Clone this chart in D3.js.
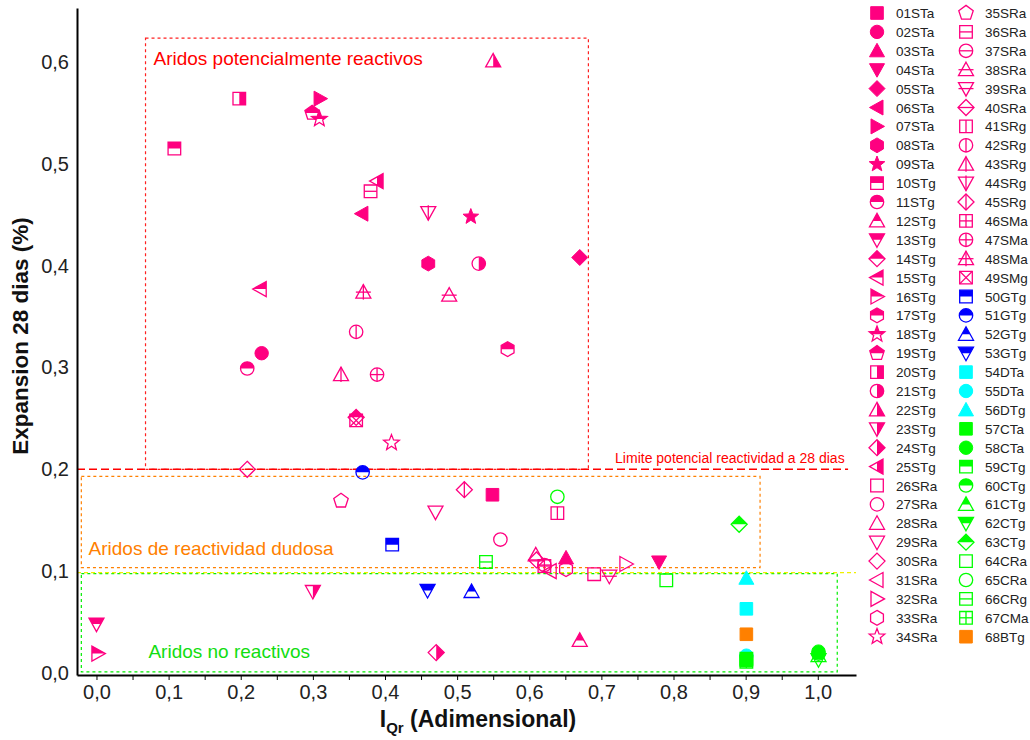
<!DOCTYPE html>
<html>
<head>
<meta charset="utf-8">
<script src="https://cdn.jsdelivr.net/npm/d3@7"></script>
<style>
  html, body { margin: 0; padding: 0; background: #fff; }
  text { font-family: "Liberation Sans", Arial, sans-serif; }
</style>
</head>
<body>
<script>
// Sample identifiers (legend order)
const sampleIds = [
  "01STa","02STa","03STa","04STa","05STa","06STa","07STa","08STa","09STa","10STg",
  "11STg","12STg","13STg","14STg","15STg","16STg","17STg","18STg","19STg","20STg",
  "21STg","22STg","23STg","24STg","25STg","26SRa","27SRa","28SRa","29SRa","30SRa",
  "31SRa","32SRa","33SRa","34SRa","35SRa","36SRa","37SRa","38SRa","39SRa","40SRa",
  "41SRg","42SRg","43SRg","44SRg","45SRg","46SMa","47SMa","48SMa","49SMg","50GTg",
  "51GTg","52GTg","53GTg","54DTa","55DTa","56DTg","57CTa","58CTa","59CTg","60CTg",
  "61CTg","62CTg","63CTg","64CRa","65CRa","66CRg","67CMa","68BTg"
];

// Reactivity index I_Qr (adimensional)
const iqrValues = [
  0.549, 0.229, 0.651, 0.780, 0.670, 0.368, 0.310, 0.460, 0.519, 0.108,
  0.209, 0.670, 0.000, 0.360, 0.227, 0.002, 0.570, 0.309, 0.299, 0.198,
  0.530, 0.550, 0.300, 0.471, 0.389, 0.690, 0.560, 0.609, 0.470, 0.209,
  0.629, 0.734, 0.651, 0.409, 0.339, 0.380, 0.621, 0.489, 0.711, 0.610,
  0.639, 0.360, 0.339, 0.460, 0.510, 0.621, 0.389, 0.370, 0.360, 0.410,
  0.369, 0.520, 0.459, 0.901, 0.901, 0.901, 0.901, 1.001, 0.901, 1.001,
  1.001, 1.001, 0.891, 0.790, 0.639, 0.540, 0.901, 0.901
];

// Expansion at 28 days (%)
const expansionValues = [
  0.175, 0.314, 0.113, 0.109, 0.408, 0.451, 0.564, 0.402, 0.448, 0.515,
  0.299, 0.032, 0.048, 0.251, 0.377, 0.019, 0.318, 0.544, 0.550, 0.564,
  0.402, 0.601, 0.080, 0.020, 0.483, 0.097, 0.131, 0.116, 0.158, 0.200,
  0.100, 0.107, 0.102, 0.226, 0.169, 0.473, 0.106, 0.371, 0.095, 0.111,
  0.157, 0.335, 0.293, 0.452, 0.180, 0.105, 0.293, 0.374, 0.248, 0.126,
  0.197, 0.080, 0.081, 0.063, 0.017, 0.093, 0.012, 0.021, 0.014, 0.019,
  0.017, 0.013, 0.146, 0.091, 0.173, 0.109, 0.011, 0.038
];

// Axis ticks
const xTickValues = [0, 0.1, 0.2, 0.3, 0.4, 0.5, 0.6, 0.7, 0.8, 0.9, 1.0];
const yTickValues = [0, 0.1, 0.2, 0.3, 0.4, 0.5, 0.6];

// Classification zones: [x0, x1, y0, y1]
const zoneReactive = [0.068, 0.682, 0.2, 0.6235];
const zoneDoubtful = [-0.021, 0.920, 0.1035, 0.193];
const zoneInert    = [-0.021, 1.027, 0.001, 0.0975];
const limitLevel = 0.2;
const inertLevel = 0.0985;

// Marker style per sample: [shape, fill mode, colour]
const PINK = "#ff0080", BLUE = "#0000ff", CYAN = "#00ffff", GREEN = "#00ff00", ORANGE = "#ff8000";
const markerStyle = {
  "01STa":["square","full",PINK], "02STa":["circle","full",PINK], "03STa":["triUp","full",PINK],
  "04STa":["triDown","full",PINK], "05STa":["diamond","full",PINK], "06STa":["triLeft","full",PINK],
  "07STa":["triRight","full",PINK], "08STa":["hexagon","full",PINK], "09STa":["star","full",PINK],
  "10STg":["square","top",PINK], "11STg":["circle","top",PINK], "12STg":["triUp","top",PINK],
  "13STg":["triDown","top",PINK], "14STg":["diamond","top",PINK], "15STg":["triLeft","top",PINK],
  "16STg":["triRight","top",PINK], "17STg":["hexagon","top",PINK], "18STg":["star","top",PINK],
  "19STg":["pentagon","top",PINK], "20STg":["square","right",PINK], "21STg":["circle","right",PINK],
  "22STg":["triUp","right",PINK], "23STg":["triDown","right",PINK], "24STg":["diamond","right",PINK],
  "25STg":["triLeft","right",PINK], "26SRa":["square","open",PINK], "27SRa":["circle","open",PINK],
  "28SRa":["triUp","open",PINK], "29SRa":["triDown","open",PINK], "30SRa":["diamond","open",PINK],
  "31SRa":["triLeft","open",PINK], "32SRa":["triRight","open",PINK], "33SRa":["hexagon","open",PINK],
  "34SRa":["star","open",PINK], "35SRa":["pentagon","open",PINK], "36SRa":["square","hline",PINK],
  "37SRa":["circle","hline",PINK], "38SRa":["triUp","hline",PINK], "39SRa":["triDown","hline",PINK],
  "40SRa":["diamond","hline",PINK], "41SRg":["square","vline",PINK], "42SRg":["circle","vline",PINK],
  "43SRg":["triUp","vline",PINK], "44SRg":["triDown","vline",PINK], "45SRg":["diamond","vline",PINK],
  "46SMa":["square","plus",PINK], "47SMa":["circle","plus",PINK], "48SMa":["triUp","plus",PINK],
  "49SMg":["square","cross",PINK], "50GTg":["square","top",BLUE], "51GTg":["circle","top",BLUE],
  "52GTg":["triUp","top",BLUE], "53GTg":["triDown","top",BLUE], "54DTa":["square","full",CYAN],
  "55DTa":["circle","full",CYAN], "56DTg":["triUp","full",CYAN], "57CTa":["square","full",GREEN],
  "58CTa":["circle","full",GREEN], "59CTg":["square","top",GREEN], "60CTg":["circle","top",GREEN],
  "61CTg":["triUp","top",GREEN], "62CTg":["triDown","top",GREEN], "63CTg":["diamond","top",GREEN],
  "64CRa":["square","open",GREEN], "65CRa":["circle","open",GREEN], "66CRg":["square","hline",GREEN],
  "67CMa":["square","plus",GREEN], "68BTg":["square","full",ORANGE]
};

const W = 1030, H = 740;
const svg = d3.select("body").append("svg").attr("width", W).attr("height", H);

const x = d3.scaleLinear().domain([-0.027, 1.053]).range([77, 856]);
const y = d3.scaleLinear().domain([-0.002, 0.653]).range([675, 8]);

// Clip regions used for half-filled markers (local marker coordinates)
const defs = svg.append("defs");
defs.append("clipPath").attr("id", "clipTop").append("rect")
  .attr("x", -20).attr("y", -20).attr("width", 40).attr("height", 20);
defs.append("clipPath").attr("id", "clipRight").append("rect")
  .attr("x", 0).attr("y", -20).attr("width", 20).attr("height", 40);

// Shape outlines, centred on the origin
function polygonPath(pts) { return "M" + pts.map(p => p.join(",")).join("L") + "Z"; }
function regular(n, r, rot) {
  return d3.range(n).map(i => {
    const a = rot + i * 2 * Math.PI / n;
    return [r * Math.cos(a), r * Math.sin(a)];
  });
}
function starPts(ro, ri) {
  return d3.range(10).map(i => {
    const a = -Math.PI / 2 + i * Math.PI / 5;
    const r = i % 2 ? ri : ro;
    return [r * Math.cos(a), r * Math.sin(a)];
  });
}
function circlePath(r) { const p = d3.path(); p.arc(0, 0, r, 0, 2 * Math.PI); p.closePath(); return p.toString(); }
const shapePaths = {
  square: polygonPath([[-6.3,-6.3],[6.3,-6.3],[6.3,6.3],[-6.3,6.3]]),
  circle: circlePath(6.7),
  triUp: polygonPath([[0,-7.5],[7.5,6],[-7.5,6]]),
  triDown: polygonPath([[0,7.5],[7.5,-6],[-7.5,-6]]),
  triLeft: polygonPath([[-7.5,0],[6,-7.5],[6,7.5]]),
  triRight: polygonPath([[7.5,0],[-6,-7.5],[-6,7.5]]),
  diamond: polygonPath([[0,-8],[8,0],[0,8],[-8,0]]),
  hexagon: polygonPath(regular(6, 7.4, -Math.PI / 2)),
  pentagon: polygonPath(regular(5, 7.6, -Math.PI / 2)),
  star: polygonPath(starPts(8.2, 3.5))
};
const shapeExtent = {
  square: [6.3, 6.3], circle: [6.7, 6.7], triUp: [7.5, 7.5], triDown: [7.5, 7.5],
  triLeft: [7.5, 7.5], triRight: [7.5, 7.5], diamond: [8, 8], hexagon: [7.2, 7.4],
  pentagon: [7.6, 7.6], star: [8, 8]
};

function drawMarker(g, style) {
  const [shape, mode, color] = style;
  const d = shapePaths[shape];
  const [ex, ey] = shapeExtent[shape];
  const sw = 1.3;
  if (mode === "full") {
    g.append("path").attr("d", d).attr("fill", color).attr("stroke", color).attr("stroke-width", 1);
    return;
  }
  if (mode === "top" || mode === "right") {
    g.append("path").attr("d", d).attr("fill", color).attr("stroke", "none")
      .attr("clip-path", mode === "top" ? "url(#clipTop)" : "url(#clipRight)");
  }
  g.append("path").attr("d", d).attr("fill", "none").attr("stroke", color).attr("stroke-width", sw);
  const line = (x1, y1, x2, y2) => g.append("line")
    .attr("x1", x1).attr("y1", y1).attr("x2", x2).attr("y2", y2)
    .attr("stroke", color).attr("stroke-width", sw);
  if (mode === "hline" || mode === "plus") line(-ex, 0, ex, 0);
  if (mode === "vline" || mode === "plus") line(0, -ey, 0, ey);
  if (mode === "cross") { line(-ex, -ey, ex, ey); line(-ex, ey, ex, -ey); }
}

// Zones
function zoneRect(z, color) {
  svg.append("rect")
    .attr("x", x(z[0])).attr("y", y(z[3]))
    .attr("width", x(z[1]) - x(z[0])).attr("height", y(z[2]) - y(z[3]))
    .attr("fill", "none").attr("stroke", color).attr("stroke-width", 1.2)
    .attr("stroke-dasharray", "3,3");
}
zoneRect(zoneReactive, "#ff2020");
zoneRect(zoneDoubtful, "#ff8000");
zoneRect(zoneInert, "#00ee00");

// Reference levels
svg.append("line")
  .attr("x1", x(-0.027)).attr("x2", x(1.053)).attr("y1", y(inertLevel)).attr("y2", y(inertLevel))
  .attr("stroke", "#f0f000").attr("stroke-width", 1.2).attr("stroke-dasharray", "4,3");
svg.append("line")
  .attr("x1", x(-0.027)).attr("x2", x(1.042)).attr("y1", y(limitLevel)).attr("y2", y(limitLevel))
  .attr("stroke", "#ff0000").attr("stroke-width", 1.5).attr("stroke-dasharray", "8,4");

// Zone labels
svg.append("text").attr("x", x(0.079)).attr("y", y(0.597))
  .attr("font-size", 19).attr("fill", "#ff0000").text("Aridos potencialmente reactivos");
svg.append("text").attr("x", x(-0.011)).attr("y", y(0.116))
  .attr("font-size", 19).attr("fill", "#ff8000").text("Aridos de reactividad dudosa");
svg.append("text").attr("x", x(0.072)).attr("y", y(0.0147))
  .attr("font-size", 19).attr("fill", "#11dd11").text("Aridos no reactivos");
svg.append("text").attr("x", x(0.719)).attr("y", y(0.206))
  .attr("font-size", 14).attr("fill", "#ff0000").text("Limite potencial reactividad a 28 dias");

// Axes
const fmt = v => d3.format(".1f")(v).replace(".", ",");
const xAxis = svg.append("g").attr("transform", `translate(0,${y(-0.002)})`)
  .call(d3.axisBottom(x).tickValues(d3.range(0, 21).map(i => i * 0.05).filter(v => v <= 1.05))
    .tickFormat(v => xTickValues.some(t => Math.abs(t - v) < 1e-6) ? fmt(v) : "")
    .tickSize(5).tickSizeOuter(0).tickPadding(5));
xAxis.select(".domain").attr("stroke", "#000").attr("stroke-width", 2);
xAxis.selectAll(".tick line").attr("stroke", "#000");
xAxis.selectAll("text").attr("font-size", 20).attr("fill", "#222")
  .attr("font-family", "'Liberation Sans', Arial, sans-serif");

const yAxis = svg.append("g").attr("transform", `translate(${x(-0.027)},0)`)
  .call(d3.axisLeft(y).tickValues(yTickValues).tickFormat(fmt).tickSize(0).tickSizeOuter(0).tickPadding(8));
yAxis.select(".domain").attr("stroke", "#000").attr("stroke-width", 2);
yAxis.selectAll("text").attr("font-size", 20).attr("fill", "#222")
  .attr("font-family", "'Liberation Sans', Arial, sans-serif");

// Axis titles
svg.append("text").attr("transform", "translate(28,336) rotate(-90)")
  .attr("text-anchor", "middle").attr("font-size", 22.5).attr("font-weight", "bold")
  .attr("fill", "#111").text("Expansion 28 dias (%)");
const xt = svg.append("text").attr("x", 478).attr("y", 727)
  .attr("text-anchor", "middle").attr("font-size", 23).attr("font-weight", "bold").attr("fill", "#111");
xt.append("tspan").text("I");
xt.append("tspan").attr("font-size", 15).attr("dy", 6).text("Qr");
xt.append("tspan").attr("dy", -6).text(" (Adimensional)");

// Points
const points = sampleIds.map((id, i) => ({ id, xv: iqrValues[i], yv: expansionValues[i] }));
svg.append("g").selectAll("g").data(points).join("g")
  .attr("transform", d => `translate(${x(d.xv)},${y(d.yv)})`)
  .each(function (d) { drawMarker(d3.select(this), markerStyle[d.id]); });

// Legend (two columns of 34 entries)
const legend = svg.append("g");
sampleIds.forEach((id, i) => {
  const col = i < 34 ? 0 : 1;
  const row = i % 34;
  const gx = col === 0 ? 877 : 966;
  const gy = 13 + row * 18.9;
  const g = legend.append("g").attr("transform", `translate(${gx},${gy})`);
  drawMarker(g, markerStyle[id]);
  legend.append("text").attr("x", gx + 19).attr("y", gy + 5)
    .attr("font-size", 13.5).attr("fill", "#222").text(id);
});
</script>
</body>
</html>
